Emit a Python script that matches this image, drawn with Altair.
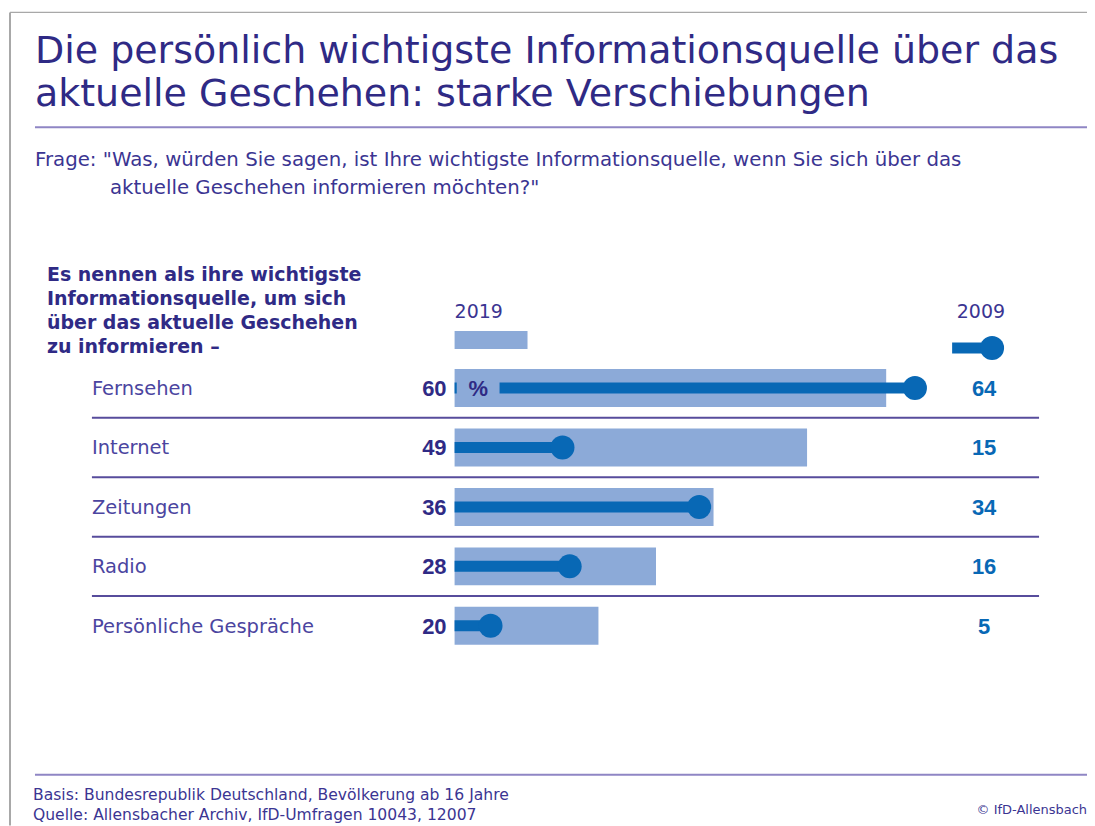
import altair as alt
import pandas as pd

# ---- data ----
categories = ["Fernsehen", "Internet", "Zeitungen", "Radio", "Persönliche Gespräche"]
values_2019 = [60, 49, 36, 28, 20]
values_2009 = [64, 15, 34, 16, 5]

title_lines = ["Die persönlich wichtigste Informationsquelle über das",
               "aktuelle Geschehen: starke Verschiebungen"]
question_lines = ["Frage: \"Was, würden Sie sagen, ist Ihre wichtigste Informationsquelle, wenn Sie sich über das",
                  "aktuelle Geschehen informieren möchten?\""]
heading_lines = ["Es nennen als ihre wichtigste", "Informationsquelle, um sich",
                 "über das aktuelle Geschehen", "zu informieren –"]
footer_lines = ["Basis:  Bundesrepublik Deutschland, Bevölkerung ab 16 Jahre",
                "Quelle: Allensbacher Archiv, IfD-Umfragen 10043, 12007"]
copyright_text = "© IfD-Allensbach"

df = pd.DataFrame({
    "cat": categories,
    "v2019": values_2019,
    "v2009": values_2009,
    "row": list(range(len(categories))),
})
df["zero"] = 0

W, H = 1080, 818
FONT = "DejaVu Sans"
NUMFONT = "Liberation Sans"
C_TITLE = "#2f2a85"
C_TEXT = "#3b3592"
C_LABEL = "#4b45a0"
C_SEP = "#574c9c"
C_ULINE = "#8f86c4"
C_BAR = "#8caad8"
C_LINE = "#0868b5"
C_GRAY = "#a8a8a8"

xs = alt.Scale(domain=[-447 / 7.2, (W - 447) / 7.2], nice=False, zero=False)
ymin = -380 / 59.5
ys = alt.Scale(domain=[ymin, ymin + H / 59.5], nice=False, zero=False, reverse=True)

base = alt.Chart(df)

bars = base.transform_calculate(
    y1="datum.row - 0.319", y2="datum.row + 0.319"
).mark_rect(color=C_BAR).encode(
    x=alt.X("zero:Q", scale=xs, axis=None),
    x2="v2019:Q",
    y=alt.Y("y1:Q", scale=ys, axis=None),
    y2="y2:Q",
)

lines = base.mark_rule(color=C_LINE, strokeWidth=11).encode(
    x=alt.X("zero:Q", scale=xs, axis=None),
    x2="v2009:Q",
    y=alt.Y("row:Q", scale=ys, axis=None),
)

# gap in the first line behind the "%" sign
mask = base.transform_filter("datum.row == 0").transform_calculate(
    m1="0.3", m2="6.25", y1="datum.row - 0.12", y2="datum.row + 0.12"
).mark_rect(color=C_BAR).encode(
    x=alt.X("m1:Q", scale=xs, axis=None),
    x2="m2:Q",
    y=alt.Y("y1:Q", scale=ys, axis=None),
    y2="y2:Q",
)

dots = base.mark_point(filled=True, shape="circle", size=576, color=C_LINE, opacity=1).encode(
    x=alt.X("v2009:Q", scale=xs, axis=None),
    y=alt.Y("row:Q", scale=ys, axis=None),
)

seps = base.transform_filter("datum.row < 4").transform_calculate(
    sy="datum.row + 0.5"
).mark_rule(color=C_SEP, strokeWidth=2).encode(
    x=alt.value(84), x2=alt.value(1032),
    y=alt.Y("sy:Q", scale=ys, axis=None),
)

row_labels = base.mark_text(align="left", baseline="middle", font=FONT, fontSize=19.5,
                            color=C_LABEL, dy=1).encode(
    x=alt.value(84), y=alt.Y("row:Q", scale=ys, axis=None), text="cat:N")

left_nums = base.mark_text(align="right", baseline="middle", font=NUMFONT, fontSize=22,
                           fontWeight="bold", color=C_TITLE, dy=1).encode(
    x=alt.value(439), y=alt.Y("row:Q", scale=ys, axis=None), text="v2019:Q")

right_nums = base.mark_text(align="center", baseline="middle", font=NUMFONT, fontSize=22,
                            fontWeight="bold", color=C_LINE, dy=1).encode(
    x=alt.value(977), y=alt.Y("row:Q", scale=ys, axis=None), text="v2009:Q")

one = alt.Data(values=[{"a": 1}])


def txt(t, x, y, size, color, weight="normal", align="left", lh=None, font=FONT):
    kw = dict(align=align, baseline="alphabetic", font=font, fontSize=size,
              fontWeight=weight, color=color, text=t)
    if lh is not None:
        kw["lineHeight"] = lh
    return alt.Chart(one).mark_text(**kw).encode(x=alt.value(x), y=alt.value(y))


def hline(x1, x2, y, color, w):
    return alt.Chart(one).mark_rule(color=color, strokeWidth=w).encode(
        x=alt.value(x1), x2=alt.value(x2), y=alt.value(y))


def vline(x, y1, y2, color, w):
    return alt.Chart(one).mark_rule(color=color, strokeWidth=w).encode(
        x=alt.value(x), y=alt.value(y1), y2=alt.value(y2))


annos = [
    vline(2, 4, H, C_GRAY, 2),
    hline(2, W, 4, C_GRAY, 1.5),
    txt(title_lines[0], 27, 55, 38, C_TITLE),
    txt(title_lines[1], 27, 98, 38, C_TITLE),
    hline(27, W, 119, C_ULINE, 2),
    txt(question_lines[0], 27, 158, 19.8, C_TEXT),
    txt(question_lines[1], 102, 186, 19.8, C_TEXT),
    txt(heading_lines, 39, 273, 19, C_TITLE, weight="bold", lh=24),
    txt("2019", 447, 310, 19, C_TEXT),
    txt("2009", 998, 310, 19, C_TEXT, align="right"),
    txt("%", 461, 388, 22, C_TITLE, weight="bold", font=NUMFONT),
    hline(27, W, 767, C_ULINE, 2),
    txt(footer_lines[0], 25, 792, 15.6, C_TEXT),
    txt(footer_lines[1], 25, 812, 15.6, C_TEXT),
    txt(copyright_text, 1080, 806, 13, C_TEXT, align="right"),
]

# legend: 2019 bar swatch and 2009 line+dot
leg_bar = alt.Chart(one).mark_rect(color=C_BAR).encode(
    x=alt.value(447), x2=alt.value(520), y=alt.value(323), y2=alt.value(341))
leg_line = alt.Chart(one).mark_rule(color=C_LINE, strokeWidth=11).encode(
    x=alt.value(945), x2=alt.value(985), y=alt.value(340))
leg_dot = alt.Chart(one).mark_point(filled=True, shape="circle", size=576, color=C_LINE,
                                    opacity=1).encode(x=alt.value(985), y=alt.value(340))

chart = alt.layer(
    bars, lines, mask, dots, seps, row_labels, left_nums, right_nums,
    leg_bar, leg_line, leg_dot, *annos
).properties(
    width=W, height=H,
    autosize=alt.AutoSizeParams(type="none"),
    padding=0,
).configure_view(stroke=None)

chart.save("out.html", embed_options={"renderer": "svg", "actions": False})
